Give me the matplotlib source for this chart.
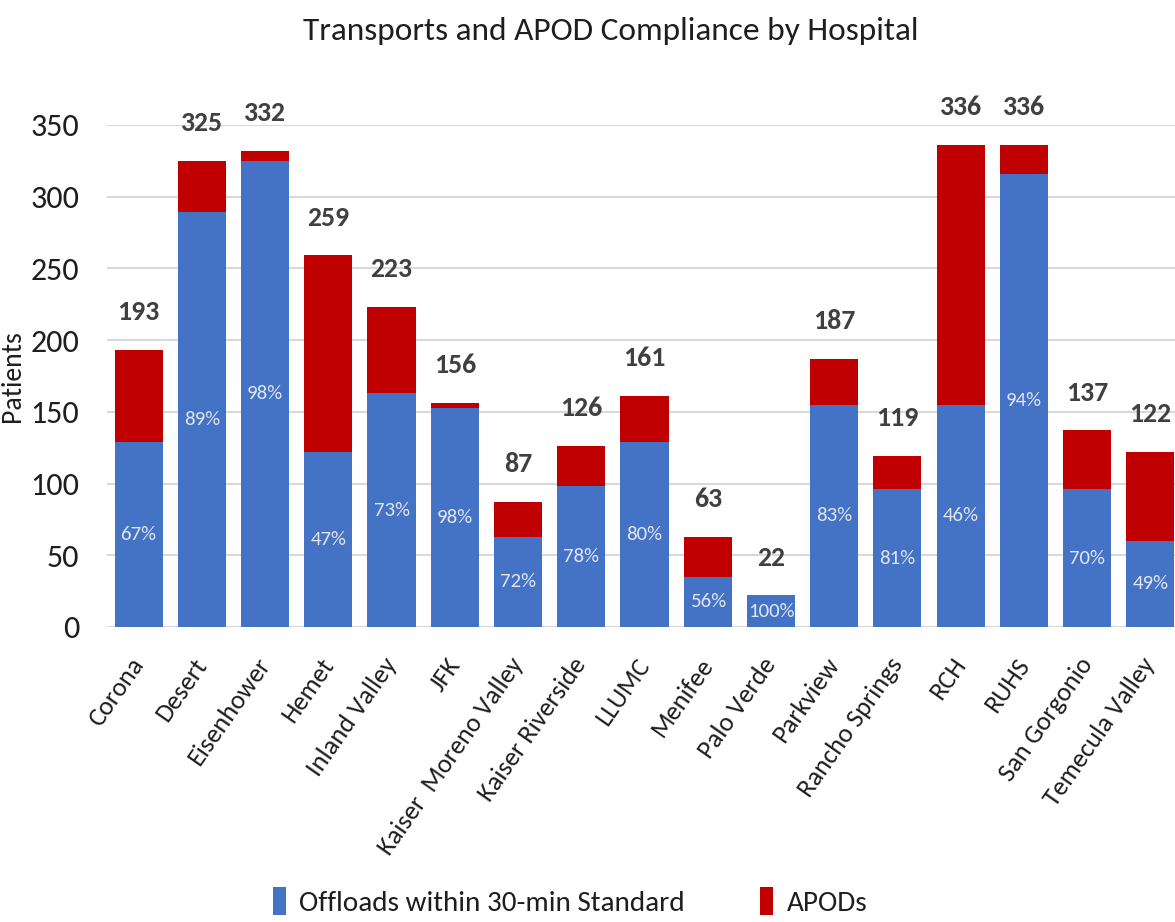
import matplotlib.pyplot as plt
import numpy as np

hospitals = ['Corona', 'Desert', 'Eisenhower', 'Hemet', 'Inland Valley', 'JFK',
             'Kaiser  Moreno Valley', 'Kaiser Riverside', 'LLUMC', 'Menifee',
             'Palo Verde', 'Parkview', 'Rancho Springs', 'RCH', 'RUHS',
             'San Gorgonio', 'Temecula Valley']
totals = [193, 325, 332, 259, 223, 156, 87, 126, 161, 63, 22, 187, 119, 336, 336, 137, 122]
offloads = [129, 289, 325, 122, 163, 153, 63, 98, 129, 35, 22, 155, 96, 155, 316, 96, 60]
pct_labels = ['67%', '89%', '98%', '47%', '73%', '98%', '72%', '78%', '80%', '56%',
              '100%', '83%', '81%', '46%', '94%', '70%', '49%']

plt.rcParams['font.family'] = ['Carlito', 'DejaVu Sans']

BLUE = '#4472C4'
RED = '#C00000'
TXT = '#1e1e1e'

apods = [t - o for t, o in zip(totals, offloads)]
x = np.arange(len(hospitals))

fig = plt.figure(figsize=(11.75, 9.22), dpi=100)
ax = fig.add_axes([0.091, 0.32, 0.915, 0.5445])

ax.bar(x, offloads, width=0.76, color=BLUE, label='Offloads within 30-min Standard', zorder=3)
ax.bar(x, apods, width=0.76, bottom=offloads, color=RED, label='APODs', zorder=3)

for i in range(len(x)):
    ax.text(x[i], totals[i] + 18, str(totals[i]), ha='center', va='bottom',
            fontsize=20, fontweight='bold', color='#404040', clip_on=False)
    ax.text(x[i], offloads[i] / 2, pct_labels[i], ha='center', va='center',
            fontsize=15, color='#dfe5f2', zorder=4)

ax.set_xlim(-0.5, len(x) - 0.5)
ax.set_ylim(0, 350)
ax.set_yticks(range(0, 351, 50))
ax.yaxis.grid(True, color='#d9d9d9', linewidth=1.5, zorder=0)
ax.set_axisbelow(True)
for s in ax.spines.values():
    s.set_visible(False)
ax.tick_params(axis='both', length=0)
ax.tick_params(axis='y', labelsize=23, labelcolor=TXT, pad=20)
ax.set_xticks(x)
ax.set_xticklabels(hospitals, rotation=55, ha='right', va='center', rotation_mode='anchor',
                   fontsize=19, color=TXT)
ax.tick_params(axis='x', pad=24)
ax.set_ylabel('Patients', fontsize=20, color=TXT, labelpad=4)

fig.suptitle('Transports and APOD Compliance by Hospital', fontsize=24, color=TXT,
             x=0.52, y=0.982)

fig.legend(loc='lower center', bbox_to_anchor=(0.485, -0.022), ncol=2, frameon=False,
           fontsize=21, handlelength=0.45, handleheight=1.1, columnspacing=2.6,
           handletextpad=0.45, labelcolor=TXT)

fig.savefig('out.png', dpi=100)
